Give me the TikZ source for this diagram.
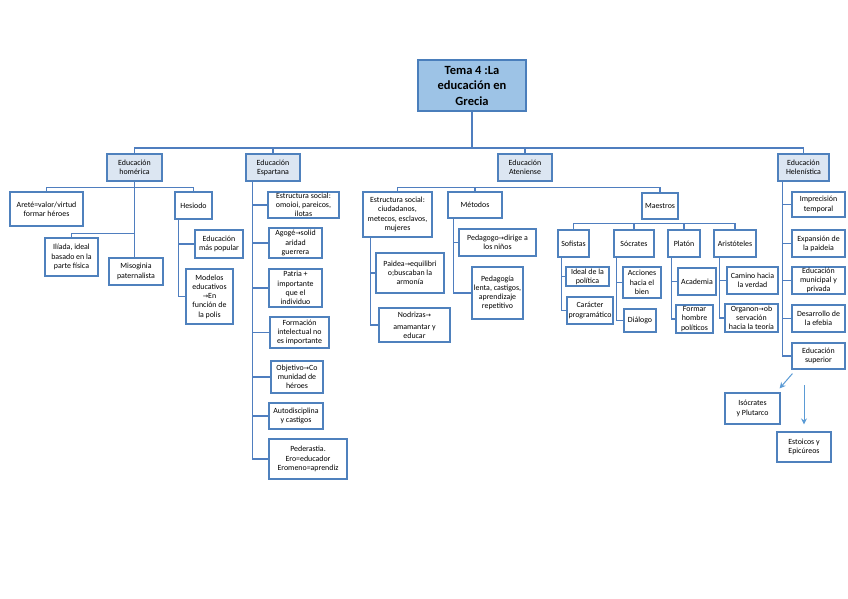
\documentclass[tikz,border=0pt]{standalone}
\usepackage{fontspec}
\setmainfont{Carlito}
\newfontfamily\symf{DejaVu Sans}
\usetikzlibrary{arrows.meta}
\definecolor{boxc}{HTML}{4F81BD}
\definecolor{linec}{HTML}{4F7EBF}
\definecolor{lvlfill}{HTML}{DCE6F2}
\definecolor{titlefill}{HTML}{9DC3E6}
\definecolor{titleline}{HTML}{4A7EBB}
\definecolor{arrc}{HTML}{5B9BD5}
\newcommand\myarrow{{\symf\fontsize{6.5}{9}\selectfont →}}
\newcommand\gbox[7][]{%
  \pgfmathsetmacro\gbw{#5-#3}%
  \pgfmathsetmacro\gbh{#6-#4}%
  \pgfmathsetmacro\gbx{(#3+#5)/2}%
  \pgfmathsetmacro\gby{(#4+#6)/2}%
  \node[box,#1,minimum width=\gbw pt,minimum height=\gbh pt] (#2) at (\gbx,\gby) {#7};}
\tikzset{
  box/.style={draw=boxc,line width=1.2pt,fill=white,inner sep=0.5pt,align=center,
    font=\fontsize{7.9}{9.2}\selectfont},
  lvl/.style={fill=lvlfill,line width=1.4pt},
  title/.style={fill=titlefill,draw=titleline,line width=2pt,
    font=\fontsize{12.5}{15.5}\selectfont\bfseries},
  conn/.style={draw=linec,line width=1.4pt},
  arr/.style={draw=arrc,line width=1pt,-{Stealth[length=6pt,width=6pt]}}
}
\begin{document}
\begin{tikzpicture}[x=1pt,y=-1pt]
\useasboundingbox (0,0) rectangle (848,599);
\fill[white] (0,0) rectangle (848,599);
% main
\gbox[title]{title}{418}{60}{526}{111}{Tema 4 :La\\educación en\\Grecia}
\gbox[lvl]{homerica}{107}{154}{162}{181}{Educación\\homérica}
\gbox[lvl]{esparta}{246}{154}{300}{181}{Educación\\Espartana}
\gbox[lvl]{aten}{498}{154}{552}{181}{Educación\\Ateniense}
\gbox[lvl]{helen}{778}{154}{829}{181}{Educación\\Helenística}
% homerica
\gbox{arete}{10}{192}{83}{226}{Areté=valor/virtud\\formar héroes}
\gbox{hesiodo}{175}{192}{212}{219}{Hesiodo}
\gbox{iliada}{45}{238}{98}{276}{Ilíada, ideal\\basado en la\\parte física}
\gbox{misog}{109}{258}{163}{285}{Misoginia\\paternalista}
\gbox{popular}{195}{230}{243}{258}{Educación\\más popular}
\gbox{modelos}{186}{269}{233}{324}{Modelos\\educativos\\\myarrow En\\función de\\la polis}
% esparta
\gbox{e1}{268}{192}{339}{218}{Estructura social:\\omoioi, pareicos,\\ilotas}
\gbox{e2}{269}{228}{322}{258}{Agogé\myarrow solid\\aridad\\guerrera}
\gbox{e3}{269}{269}{322}{307}{Patria +\\importante\\que el\\individuo}
\gbox{e4}{270}{317}{329}{348}{Formación\\intelectual no\\es importante}
\gbox{e5}{271}{361}{323}{393}{Objetivo\myarrow Co\\munidad de\\héroes}
\gbox{e6}{269}{403}{323}{429}{Autodisciplina\\y castigos}
\gbox{e7}{269}{439}{347}{479}{Pederastia.\\Ero=educador\\Eromeno=aprendiz}
% atenas
\gbox{estA}{363}{192}{432}{237}{Estructura social:\\ciudadanos,\\metecos, esclavos,\\mujeres}
\gbox{metodos}{448}{192}{502}{218}{Métodos}
\gbox{paideia}{376}{253}{444}{293}{Paidea\myarrow equilibri\\o;buscaban la\\armonía}
\gbox{nodrizas}{379}{308}{450}{342}{Nodrizas\myarrow\\[3pt]amamantar y\\educar}
\gbox{pedagogo}{459}{229}{536}{256}{Pedagogo\myarrow dirige a\\los niños}
\gbox{pedagogia}{472}{267}{523}{319}{Pedagogía\\lenta, castigos,\\aprendizaje\\repetitivo}
\gbox{maestros}{642}{193}{678}{219}{Maestros}
\gbox{sofistas}{558}{230}{589}{257}{Sofistas}
\gbox{socrates}{614}{230}{654}{257}{Sócrates}
\gbox{platon}{668}{230}{700}{257}{Platón}
\gbox{aristoteles}{714}{230}{756}{257}{Aristóteles}
\gbox{ideal}{566}{267}{609}{286}{Ideal de la\\política}
\gbox{caracter}{567}{297}{613}{324}{Carácter\\programático}
\gbox{acciones}{623}{267}{661}{298}{Acciones\\hacia el\\bien}
\gbox{dialogo}{624}{309}{656}{332}{Diálogo}
\gbox{academia}{678}{268}{716}{295}{Academia}
\gbox{formar}{676}{305}{713}{333}{Formar\\hombre\\políticos}
\gbox{camino}{727}{267}{778}{294}{Camino hacia\\la verdad}
\gbox{organon}{725}{304}{778}{332}{Organon\myarrow ob\\servación\\hacia la teoría}
% helenistica
\gbox{h1}{792}{192}{845}{217}{Imprecisión\\temporal}
\gbox{h2}{792}{230}{845}{257}{Expansión de\\la paideia}
\gbox{h3}{792}{267}{845}{294}{Educación\\municipal y\\privada}
\gbox{h4}{792}{305}{845}{332}{Desarrollo de\\la efebia}
\gbox{h5}{792}{343}{845}{369}{Educación\\superior}
\gbox{isocrates}{725}{393}{780}{424}{Isócrates\\y Plutarco}
\gbox{estoicos}{777}{432}{831}{462}{Estoicos y\\Epicúreos}
% connectors
\coordinate (bus) at (472,148);
\draw[conn] (title.south) -- (bus);
\draw[conn] (homerica.north) |- (bus) -| (helen.north);
\draw[conn] (esparta.north) -- (esparta.north |- bus);
\draw[conn] (aten.north) -- (aten.north |- bus);
% homerica
\draw[conn] (homerica.south) -- (homerica.south |- misog.north);
\draw[conn] (homerica.south) ++(0,6) -| (arete.north);
\draw[conn] (homerica.south) ++(0,6) -| (hesiodo.north);
\draw[conn] (homerica.south) ++(0,52) -| (iliada.north);
\foreach \n in {popular,modelos} \draw[conn] ([xshift=4pt]hesiodo.south west) |- (\n.west);
% esparta
\foreach \n in {e1,e2,e3,e4,e5,e6,e7} \draw[conn] ([xshift=7pt]esparta.south west) |- (\n.west);
% atenas
\foreach \n in {estA,metodos,maestros} \draw[conn] (aten.south) ++(0,6) -| (\n.north);
\foreach \n in {paideia,nodrizas} \draw[conn] ([xshift=8pt]estA.south west) |- (\n.west);
\foreach \n in {pedagogo,pedagogia} \draw[conn] ([xshift=6pt]metodos.south west) |- (\n.west);
\foreach \n in {sofistas,socrates,platon,aristoteles} \draw[conn] (maestros.south) ++(0,4) -| (\n.north);
\foreach \n in {ideal,caracter} \draw[conn] ([xshift=4pt]sofistas.south west) |- (\n.west);
\foreach \n in {acciones,dialogo} \draw[conn] ([xshift=3pt]socrates.south west) |- (\n.west);
\foreach \n in {academia,formar} \draw[conn] ([xshift=4pt]platon.south west) |- (\n.west);
\foreach \n in {camino,organon} \draw[conn] ([xshift=6pt]aristoteles.south west) |- (\n.west);
% helenistica
\foreach \n in {h1,h2,h3,h4,h5} \draw[conn] ([xshift=5pt]helen.south west) |- (\n.west);
\draw[arr] ([shift={(1,4)}]h5.south west) -- ([shift={(-1,-4)}]isocrates.north east);
\draw[arr] ([yshift=46pt]estoicos.north) -- ([yshift=7pt]estoicos.north);
\end{tikzpicture}
\end{document}
